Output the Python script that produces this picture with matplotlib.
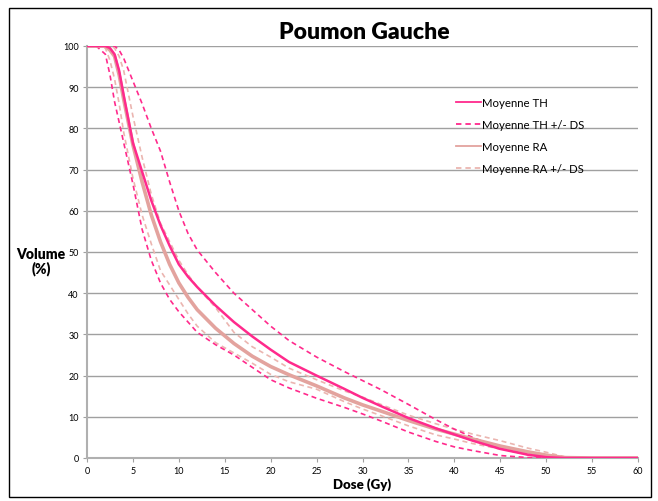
import matplotlib
matplotlib.use("Agg")
import matplotlib.pyplot as plt
from matplotlib.patches import Rectangle

plt.rcParams['font.family'] = ['Lato', 'DejaVu Sans']

dose = [0, 1, 2, 2.5, 3, 3.5, 4, 5, 6, 7, 8, 9, 10, 11, 12, 14, 16, 18, 20, 22,
        25, 28, 30, 32, 35, 38, 40, 42, 45, 48, 50, 52, 55, 60]

th_mean = [100, 100, 100, 99.5, 98, 94, 88, 76.5, 69.5, 62.5, 56.5, 51.5, 47,
           44, 41.5, 37, 33, 29.5, 26.3, 23.3, 20, 16.8, 14.6, 12.6, 9.7, 7.2,
           5.7, 4.2, 2.2, 0.8, 0.2, 0, 0, 0]
th_plus = [100, 100, 100, 100, 100, 99, 97, 91.5, 86, 80, 74.5, 67, 60, 54.5,
           50.5, 45, 40, 36, 32, 28.5, 24.5, 21, 18.8, 16.6, 13, 9.3, 7, 5, 2.3,
           0.8, 0.3, 0, 0, 0]
th_minus = [100, 100, 98, 93, 86.5, 81.5, 76.5, 66.5, 55.5, 48, 42.5, 38.5,
            35.5, 33, 30.5, 27.5, 25, 22, 19, 17, 14.5, 12.3, 10.7, 9, 6.3, 4,
            2.7, 1.8, 0.6, 0.1, 0, 0, 0, 0]
ra_mean = [100, 100, 100, 99, 97.5, 93, 87, 76, 67, 59, 52.5, 47, 42.5, 39, 36,
           31.5, 27.8, 24.7, 22.2, 20.2, 17.5, 14.6, 12.9, 11.4, 9.1, 7, 5.8,
           4.6, 2.9, 1.5, 0.7, 0.1, 0, 0]
ra_plus = [100, 100, 100, 100, 99.5, 97.5, 94, 83, 73, 64, 57, 52.5, 48, 44.5,
           41.5, 36.5, 30.5, 27, 24.5, 21.8, 19, 16.3, 14.8, 13, 10.4, 8.3, 7,
           5.8, 4.2, 2.4, 1.4, 0.3, 0, 0]
ra_minus = [100, 100, 99.5, 96.5, 92, 86, 79, 68, 59, 52, 45.5, 42, 38.5, 35,
            32, 28, 25.5, 23, 20.3, 18.5, 16.7, 13.7, 11.9, 10.3, 7.8, 5.6, 4.6,
            3.5, 2.2, 1.1, 0.6, 0.1, 0, 0]

x_ticks = list(range(0, 61, 5))
y_ticks = list(range(0, 101, 10))

TH_COL = '#FF2A8C'
RA_COL = '#E3A39E'
RA_DASH = '#EBB5B0'

fig = plt.figure(figsize=(6.58, 5.02), dpi=100)
fig.patches.append(Rectangle((9 / 658, 4 / 502), 642 / 658, 489 / 502,
                             transform=fig.transFigure, fill=False,
                             edgecolor='#000000', linewidth=1.0))
ax = fig.add_axes([87 / 658, 1 - 459 / 502, 551 / 658, 412 / 502])

dash = (0, (3, 2.2))
ax.plot(dose, ra_minus, color=RA_DASH, lw=1.2, ls=dash, zorder=3)
ax.plot(dose, ra_plus, color=RA_DASH, lw=1.2, ls=dash, zorder=3,
        label='Moyenne RA +/- DS')
ax.plot(dose, th_minus, color=TH_COL, lw=1.2, ls=dash, zorder=4)
ax.plot(dose, th_plus, color=TH_COL, lw=1.2, ls=dash, zorder=4,
        label='Moyenne TH +/- DS')
ax.plot(dose, ra_mean, color=RA_COL, lw=2.6, zorder=5, label='Moyenne RA')
ax.plot(dose, th_mean, color=TH_COL, lw=1.8, zorder=6, label='Moyenne TH')

ax.set_xlim(0, 60)
ax.set_ylim(0, 100)
ax.set_xticks(x_ticks)
ax.set_yticks(y_ticks)
ax.tick_params(labelsize=6.5, length=3, width=0.8, color='#A0A0A0', pad=3)
ax.yaxis.grid(True, color='#A0A0A0', lw=1.0)
ax.set_axisbelow(True)
for s in ['top', 'right']:
    ax.spines[s].set_visible(False)
for s in ['left', 'bottom']:
    ax.spines[s].set_color('#B0B0B0')
    ax.spines[s].set_linewidth(1.5)

fig.text(364 / 658, 1 - 33 / 502, 'Poumon Gauche', ha='center', va='center',
         fontsize=16.5, fontweight='heavy')
fig.text(362 / 658, 1 - 485 / 502, 'Dose (Gy)', ha='center', va='center',
         fontsize=9.5, fontweight='heavy')
fig.text(41 / 658, 1 - 262 / 502, 'Volume\n(%)', ha='center', va='center',
         fontsize=10, fontweight='heavy', linespacing=1.1)

h, l = ax.get_legend_handles_labels()
order = [3, 1, 2, 0]
leg = fig.legend([h[i] for i in order], [l[i] for i in order],
                 loc='upper left', bbox_to_anchor=(446 / 658, 1 - 88 / 502),
                 frameon=False, fontsize=8.2, handlelength=2.2,
                 handletextpad=0.05, labelspacing=0.95)
for line in leg.get_lines():
    line.set_linewidth(1.3)

fig.savefig('out.png', dpi=100)
